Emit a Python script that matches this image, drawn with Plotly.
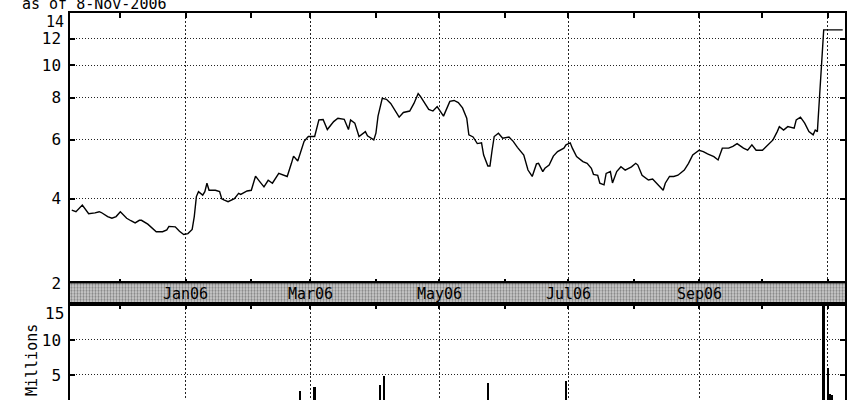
import math
import plotly.graph_objects as go

# ---------------- data ----------------
price_dates = [
    "2005-11-08", "2005-11-10", "2005-11-13", "2005-11-14", "2005-11-16", "2005-11-19", "2005-11-21",
    "2005-11-22", "2005-11-25", "2005-11-27", "2005-11-29", "2005-12-01", "2005-12-04", "2005-12-06",
    "2005-12-08", "2005-12-10", "2005-12-11", "2005-12-14", "2005-12-16", "2005-12-18", "2005-12-21",
    "2005-12-23", "2005-12-24", "2005-12-27", "2005-12-29", "2005-12-31", "2006-01-02", "2006-01-04",
    "2006-01-05", "2006-01-06", "2006-01-07", "2006-01-09", "2006-01-10", "2006-01-11", "2006-01-12",
    "2006-01-15", "2006-01-17", "2006-01-18", "2006-01-19", "2006-01-21", "2006-01-24", "2006-01-26",
    "2006-01-27", "2006-01-30", "2006-02-01", "2006-02-03", "2006-02-05", "2006-02-07", "2006-02-09",
    "2006-02-11", "2006-02-14", "2006-02-16", "2006-02-18", "2006-02-20", "2006-02-21", "2006-02-23",
    "2006-02-24", "2006-02-26", "2006-02-28", "2006-03-03", "2006-03-05", "2006-03-07", "2006-03-09",
    "2006-03-12", "2006-03-14", "2006-03-17", "2006-03-19", "2006-03-20", "2006-03-22", "2006-03-24",
    "2006-03-27", "2006-03-28", "2006-03-31", "2006-04-01", "2006-04-02", "2006-04-04", "2006-04-06",
    "2006-04-08", "2006-04-12", "2006-04-14", "2006-04-17", "2006-04-19", "2006-04-21", "2006-04-22",
    "2006-04-26", "2006-04-28", "2006-04-30", "2006-05-03", "2006-05-06", "2006-05-08", "2006-05-10",
    "2006-05-12", "2006-05-14", "2006-05-15", "2006-05-17", "2006-05-19", "2006-05-21", "2006-05-22",
    "2006-05-24", "2006-05-25", "2006-05-26", "2006-05-27", "2006-05-29", "2006-05-31", "2006-06-03",
    "2006-06-05", "2006-06-07", "2006-06-10", "2006-06-12", "2006-06-14", "2006-06-16", "2006-06-17",
    "2006-06-19", "2006-06-20", "2006-06-22", "2006-06-24", "2006-06-26", "2006-06-29", "2006-06-30",
    "2006-07-02", "2006-07-03", "2006-07-05", "2006-07-08", "2006-07-10", "2006-07-12", "2006-07-13",
    "2006-07-15", "2006-07-16", "2006-07-18", "2006-07-19", "2006-07-21", "2006-07-22", "2006-07-24",
    "2006-07-26", "2006-07-28", "2006-07-31", "2006-08-02", "2006-08-03", "2006-08-05", "2006-08-08",
    "2006-08-10", "2006-08-12", "2006-08-15", "2006-08-16", "2006-08-18", "2006-08-20", "2006-08-22",
    "2006-08-25", "2006-08-27", "2006-08-29", "2006-09-01", "2006-09-03", "2006-09-05", "2006-09-08",
    "2006-09-10", "2006-09-12", "2006-09-15", "2006-09-17", "2006-09-19", "2006-09-22", "2006-09-24",
    "2006-09-26", "2006-09-28", "2006-10-01", "2006-10-04", "2006-10-06", "2006-10-08", "2006-10-09",
    "2006-10-11", "2006-10-13", "2006-10-16", "2006-10-17", "2006-10-19", "2006-10-21", "2006-10-23",
    "2006-10-25", "2006-10-26", "2006-10-27", "2006-10-30", "2006-10-31", "2006-11-01", "2006-11-02",
    "2006-11-03", "2006-11-06", "2006-11-07", "2006-11-08",
]
price_values = [
    3.70, 3.66, 3.83, 3.75, 3.61, 3.63, 3.66,
    3.64, 3.54, 3.50, 3.54, 3.66, 3.50, 3.44,
    3.39, 3.45, 3.45, 3.36, 3.28, 3.19, 3.19,
    3.23, 3.31, 3.30, 3.20, 3.13, 3.15, 3.24,
    3.54, 4.06, 4.20, 4.10, 4.20, 4.45, 4.24,
    4.24, 4.20, 4.00, 3.97, 3.92, 4.00, 4.15,
    4.12, 4.22, 4.24, 4.67, 4.50, 4.34, 4.54,
    4.45, 4.76, 4.70, 4.66, 5.10, 5.36, 5.18,
    5.40, 5.93, 6.13, 6.13, 6.87, 6.89, 6.43,
    6.79, 6.95, 6.90, 6.43, 6.87, 6.72, 6.13,
    6.34, 6.16, 5.99, 6.27, 7.05, 7.96, 7.91,
    7.69, 7.00, 7.23, 7.30, 7.69, 8.23, 8.08,
    7.38, 7.30, 7.53, 7.05, 7.80, 7.85, 7.74,
    7.46, 6.95, 6.20, 6.11, 5.84, 5.87, 5.40,
    5.01, 5.01, 5.58, 6.13, 6.27, 6.06, 6.11,
    5.93, 5.69, 5.40, 4.87, 4.66, 5.08, 5.10,
    4.82, 4.93, 5.04, 5.36, 5.53, 5.66, 5.79,
    5.87, 5.66, 5.34, 5.16, 5.10, 4.93, 4.73,
    4.70, 4.45, 4.40, 4.76, 4.82, 4.46, 4.82,
    4.98, 4.87, 4.98, 5.10, 5.04, 4.70, 4.55,
    4.58, 4.45, 4.24, 4.45, 4.66, 4.66, 4.70,
    4.87, 5.10, 5.40, 5.58, 5.53, 5.44, 5.34,
    5.22, 5.66, 5.66, 5.73, 5.84, 5.66, 5.58,
    5.79, 5.58, 5.58, 5.84, 5.99, 6.34, 6.56,
    6.41, 6.56, 6.49, 6.87, 7.00, 6.72, 6.34,
    6.20, 6.41, 6.34, 12.74, 12.74, 12.74, 12.74,
    12.74, 12.74, 12.74, 12.74,
]

volume_dates = ["2006-02-24", "2006-03-03", "2006-04-03", "2006-04-05", "2006-05-24",
                "2006-06-30", "2006-10-30", "2006-11-01", "2006-11-02", "2006-11-03"]
volume_millions = [3.3, 3.7, 3.9, 4.9, 4.1, 4.3, 22.0, 5.8, 3.0, 2.9]

major_months = ["2006-01-01", "2006-03-01", "2006-05-01", "2006-07-01", "2006-09-01", "2006-11-01"]
major_labels = ["Jan06", "Mar06", "May06", "Jul06", "Sep06", ""]
minor_months = ["2005-12-01", "2006-02-01", "2006-04-01", "2006-06-01", "2006-08-01", "2006-10-01"]

price_ticks = [4, 6, 8, 10, 12]
volume_ticks = [5, 10]
title_text = "as of 8-Nov-2006"

# ---------------- layout constants ----------------
W, H = 861, 400
ML, MR, MT, MB = 70, 16, 13, 0
PH = H - MT - MB
X_RANGE = ["2005-11-07 04:00", "2006-11-09 02:00"]
PRICE_RANGE = (2.24, 14.3)
VOL_RANGE = (2.48, 16.9)


def py(pix):
    return (H - MB - pix) / PH


def px(pix):
    return (pix - ML) / (W - ML - MR)


price_dom = [py(283.3), 1.0]
band_dom = [py(304), py(283.3)]
vol_dom = [0.0, py(304)]

FONT = "DejaVu Sans Mono"
INK = "#000000"
GRID = "#222222"

fig = go.Figure()

fig.add_trace(go.Scatter(
    x=price_dates, y=price_values, mode="lines",
    line=dict(color=INK, width=1.4), xaxis="x", yaxis="y", hoverinfo="skip",
))

# date band (stippled strip)
fig.add_trace(go.Scatter(
    x=[X_RANGE[0], X_RANGE[1], X_RANGE[1], X_RANGE[0], X_RANGE[0]],
    y=[0, 0, 1, 1, 0], mode="lines", line=dict(width=0), fill="toself",
    fillcolor="rgba(0,0,0,0)",
    fillpattern=dict(shape=".", fgcolor="#333333", bgcolor="#d2d2d2", size=3, solidity=0.45),
    xaxis="x2", yaxis="y2", hoverinfo="skip",
))

fig.add_trace(go.Bar(
    x=volume_dates, y=[math.sqrt(v) for v in volume_millions],
    marker=dict(color=INK, line=dict(width=0)), width=0.8 * 86400000,
    xaxis="x3", yaxis="y3", hoverinfo="skip",
))

xcommon = dict(type="date", range=X_RANGE, showline=True, linecolor=INK, linewidth=1.5,
               tickmode="array", tickvals=major_months, showticklabels=False,
               ticks="inside", ticklen=5, tickwidth=2, tickcolor=INK,
               minor=dict(tickmode="array", tickvals=minor_months, ticks="inside",
                          ticklen=5, tickwidth=2, tickcolor=INK, showgrid=False),
               showgrid=True, gridcolor=GRID, griddash="2px,2px", gridwidth=1.4,
               zeroline=False, automargin=False)

ycommon = dict(showline=True, linecolor=INK, linewidth=1.5, mirror="allticks",
               ticks="inside", ticklen=5, tickwidth=2, tickcolor=INK,
               showgrid=True, gridcolor=GRID, griddash="1px,2px", gridwidth=1,
               zeroline=False, ticklabelstandoff=4, automargin=False,
               tickfont=dict(family=FONT, size=16, color=INK))

fig.update_layout(
    width=W, height=H, margin=dict(l=ML, r=MR, t=MT, b=MB, autoexpand=False),
    paper_bgcolor="white", plot_bgcolor="white", showlegend=False,
    font=dict(family=FONT, size=16, color=INK),
    xaxis=dict(xcommon, anchor="y", domain=[0, 1], mirror="allticks"),
    yaxis=dict(ycommon, type="log", domain=price_dom,
               range=[math.log10(PRICE_RANGE[0]), math.log10(PRICE_RANGE[1])],
               tickmode="array", tickvals=[PRICE_RANGE[0]] + price_ticks,
               ticktext=["2"] + [str(t) for t in price_ticks]),
    xaxis2=dict(type="date", range=X_RANGE, matches="x", anchor="y2", showline=True, mirror=True,
                linecolor=INK, linewidth=1.5, showticklabels=False, ticks="", showgrid=False,
                zeroline=False, automargin=False),
    yaxis2=dict(domain=band_dom, range=[0, 1], showline=True, mirror=True, linecolor=INK, linewidth=1.5,
                showticklabels=False, ticks="", showgrid=False, zeroline=False, anchor="x2", automargin=False),
    xaxis3=dict(xcommon, anchor="y3", side="top", matches="x"),
    yaxis3=dict(ycommon, domain=vol_dom, range=[math.sqrt(VOL_RANGE[0]), math.sqrt(VOL_RANGE[1])],
                tickmode="array", tickvals=[math.sqrt(t) for t in volume_ticks],
                ticktext=[str(t) for t in volume_ticks], anchor="x3"),
    bargap=0,
)

annotations = []
for d, lab in zip(major_months, major_labels):
    if lab:
        annotations.append(dict(x=d, xref="x2", y=0.5, yref="y2", text=lab, showarrow=False,
                                font=dict(family=FONT, size=15, color=INK), xanchor="center", yanchor="middle"))
annotations.append(dict(x=px(20), xref="paper", y=1, yref="paper", text=title_text, showarrow=False,
                        xanchor="left", yanchor="bottom", yshift=-2,
                        font=dict(family=FONT, size=15, color=INK)))
annotations.append(dict(x=px(66), xref="paper", y=py(21.5), yref="paper", text="14", showarrow=False,
                        xanchor="right", yanchor="middle", font=dict(family=FONT, size=15, color=INK)))
annotations.append(dict(x=px(66), xref="paper", y=py(313), yref="paper", text="15", showarrow=False,
                        xanchor="right", yanchor="middle", font=dict(family=FONT, size=16, color=INK)))
annotations.append(dict(x=px(32), xref="paper", y=py(360), yref="paper", text="Millions", showarrow=False,
                        textangle=-90, xanchor="center", yanchor="middle",
                        font=dict(family=FONT, size=15, color=INK)))
fig.update_layout(annotations=annotations)

fig.write_html("out.html", config={"displayModeBar": False},
               post_script="document.body.style.margin='0';")
